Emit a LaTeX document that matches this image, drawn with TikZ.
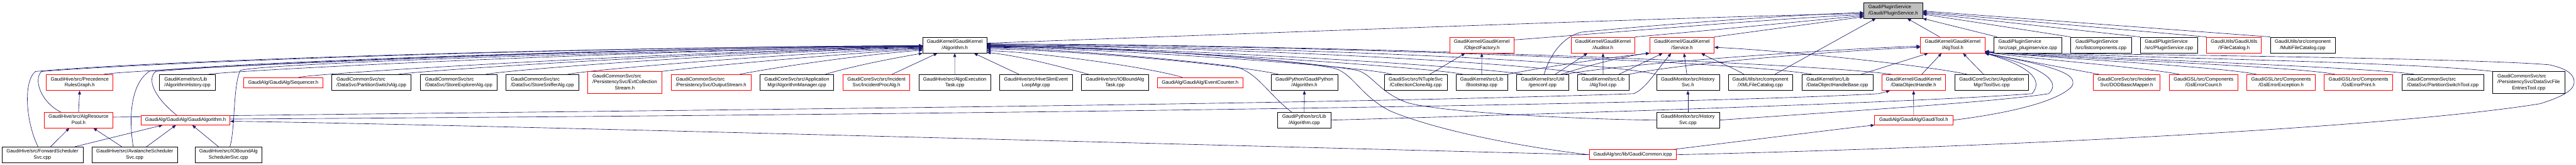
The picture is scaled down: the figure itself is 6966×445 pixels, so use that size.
\documentclass[tikz,border=0pt]{standalone}
\usepackage{fontspec}
\setmainfont{Liberation Sans}
\usetikzlibrary{arrows.meta}
\definecolor{navy}{RGB}{25,25,112}
\definecolor{dred}{RGB}{255,0,0}
\definecolor{dgrey}{RGB}{191,191,191}
\pgfdeclarelayer{background}
\pgfsetlayers{background,main}
\newcommand{\twol}[2]{\begin{tabular}{@{}l@{}}#1\\\multicolumn{1}{@{}c@{}}{#2}\end{tabular}}
\newcommand{\thrl}[3]{\begin{tabular}{@{}l@{}}#1\\#2\\\multicolumn{1}{@{}c@{}}{#3}\end{tabular}}
\begin{document}
\begin{tikzpicture}[x=1pt,y=-1pt,
  bx/.style={draw=black, fill=white, text=black, line width=1.1pt, inner sep=0pt, font=\fontsize{13.2}{16.3}\selectfont, minimum height=43pt},
  rbx/.style={bx, draw=dred},
  one/.style={minimum height=27pt},
  ed/.style={draw=navy, line width=1.1pt, -{Triangle[length=10pt,width=8pt]}}]
\useasboundingbox (0,0) rectangle (6966,445);
% row 1
\node[bx, minimum width=159pt, minimum height=42pt, fill=dgrey] (ps) at (5119.5,28.3) {\twol{GaudiPluginService}{/Gaudi/PluginService.h}};
% row 2
\node[bx, minimum width=173pt] (alg) at (2581.8,121.7) {\twol{GaudiKernel/GaudiKernel}{/Algorithm.h}};
\node[rbx, minimum width=173pt] (objf) at (4007,121.7) {\twol{GaudiKernel/GaudiKernel}{/ObjectFactory.h}};
\node[rbx, minimum width=173pt] (aud) at (4334.8,121.7) {\twol{GaudiKernel/GaudiKernel}{/Auditor.h}};
\node[rbx, minimum width=174pt] (svc) at (4548.2,121.7) {\twol{GaudiKernel/GaudiKernel}{/Service.h}};
\node[rbx, minimum width=174pt] (algtoolh) at (5280.3,121.7) {\twol{GaudiKernel/GaudiKernel}{/AlgTool.h}};
\node[bx, minimum width=184pt] (capi) at (5483.4,121.7) {\twol{GaudiPluginService}{/src/capi\_pluginservice.cpp}};
\node[bx, minimum width=164pt] (listc) at (5681.3,121.7) {\twol{GaudiPluginService}{/src/listcomponents.cpp}};
\node[bx, minimum width=156pt] (pscpp) at (5865.3,121.7) {\twol{GaudiPluginService}{/src/PluginService.cpp}};
\node[rbx, minimum width=148pt] (ifc) at (6041.2,121.7) {\twol{GaudiUtils/GaudiUtils}{/IFileCatalog.h}};
\node[bx, minimum width=175pt] (mfc) at (6227,121.7) {\twol{GaudiUtils/src/component}{/MultiFileCatalog.cpp}};
% row 3
\node[rbx, minimum width=180pt] (prg) at (215.5,222.8) {\twol{GaudiHive/src/Precedence}{RulesGraph.h}};
\node[bx, minimum width=151pt] (ahist) at (506.8,222.8) {\twol{GaudiKernel/src/Lib}{/AlgorithmHistory.cpp}};
\node[rbx, one, minimum width=215pt] (seq) at (766,222.8) {GaudiAlg/GaudiAlg/Sequencer.h};
\node[bx, minimum width=214pt] (psalg) at (1004.3,222.8) {\twol{GaudiCommonSvc/src}{/DataSvc/PartitionSwitchAlg.cpp}};
\node[bx, minimum width=208pt] (sexp) at (1240.4,222.8) {\twol{GaudiCommonSvc/src}{/DataSvc/StoreExplorerAlg.cpp}};
\node[bx, minimum width=197pt] (ssnif) at (1466.8,222.8) {\twol{GaudiCommonSvc/src}{/DataSvc/StoreSnifferAlg.cpp}};
\node[rbx, minimum width=200pt, minimum height=59pt] (evtcs) at (1689.5,222.8) {\thrl{GaudiCommonSvc/src}{/PersistencySvc/EvtCollection}{Stream.h}};
\node[rbx, minimum width=217pt] (ostr) at (1922.9,222.8) {\twol{GaudiCommonSvc/src}{/PersistencySvc/OutputStream.h}};
\node[bx, minimum width=199pt] (algmgr) at (2154.8,222.8) {\twol{GaudiCoreSvc/src/Application}{Mgr/AlgorithmManager.cpp}};
\node[rbx, minimum width=181pt] (incproc) at (2370,222.8) {\twol{GaudiCoreSvc/src/Incident}{Svc/IncidentProcAlg.h}};
\node[bx, minimum width=195pt] (aet) at (2581.9,222.8) {\twol{GaudiHive/src/AlgoExecution}{Task.cpp}};
\node[bx, minimum width=196pt] (hslim) at (2801.5,222.8) {\twol{GaudiHive/src/HiveSlimEvent}{LoopMgr.cpp}};
\node[bx, minimum width=181pt] (ioalgtask) at (3015,222.8) {\twol{GaudiHive/src/IOBoundAlg}{Task.cpp}};
\node[rbx, one, minimum width=232pt] (evc) at (3245.3,222.8) {GaudiAlg/GaudiAlg/EventCounter.h};
\node[bx, minimum width=180pt] (gpyalgh) at (3527.3,222.8) {\twol{GaudiPython/GaudiPython}{/Algorithm.h}};
\node[bx, minimum width=170pt] (cclone) at (3828.2,222.8) {\twol{GaudiSvc/src/NTupleSvc}{/CollectionCloneAlg.cpp}};
\node[bx, minimum width=139pt] (boot) at (4006.8,222.8) {\twol{GaudiKernel/src/Lib}{/Bootstrap.cpp}};
\node[bx, minimum width=140pt] (genconf) at (4171.4,222.8) {\twol{GaudiKernel/src/Util}{/genconf.cpp}};
\node[bx, minimum width=139pt] (algtoolcpp) at (4335,222.8) {\twol{GaudiKernel/src/Lib}{/AlgTool.cpp}};
\node[bx, minimum width=170pt] (hsvch) at (4564.4,222.8) {\twol{GaudiMonitor/src/History}{Svc.h}};
\node[bx, minimum width=174pt] (xmlfc) at (4760.4,222.8) {\twol{GaudiUtils/src/component}{/XMLFileCatalog.cpp}};
\node[bx, minimum width=192pt] (dohbase) at (4968.4,222.8) {\twol{GaudiKernel/src/Lib}{/DataObjectHandleBase.cpp}};
\node[rbx, minimum width=173pt] (doh) at (5174.7,222.8) {\twol{GaudiKernel/GaudiKernel}{/DataObjectHandle.h}};
\node[bx, minimum width=199pt] (toolsvc) at (5385.9,222.8) {\twol{GaudiCoreSvc/src/Application}{Mgr/ToolSvc.cpp}};
\node[rbx, minimum width=181pt] (dodmap) at (5750.9,222.8) {\twol{GaudiCoreSvc/src/Incident}{Svc/DODBasicMapper.h}};
\node[rbx, minimum width=185pt] (gslcount) at (5958.8,222.8) {\twol{GaudiGSL/src/Components}{/GslErrorCount.h}};
\node[rbx, minimum width=186pt] (gslexc) at (6168.5,222.8) {\twol{GaudiGSL/src/Components}{/GslErrorException.h}};
\node[rbx, minimum width=185pt] (gslprint) at (6377.8,222.8) {\twol{GaudiGSL/src/Components}{/GslErrorPrint.h}};
\node[bx, minimum width=221pt] (pstool) at (6605.9,222.8) {\twol{GaudiCommonSvc/src}{/DataSvc/PartitionSwitchTool.cpp}};
\node[bx, minimum width=195pt, minimum height=59pt] (dsfet) at (6838,222.8) {\thrl{GaudiCommonSvc/src}{/PersistencySvc/DataSvcFile}{EntriesTool.cpp}};
% row 4
\node[rbx, minimum width=186pt, minimum height=42pt] (arp) at (212.4,324.3) {\twol{GaudiHive/src/AlgResource}{Pool.h}};
\node[rbx, minimum width=240.6pt, minimum height=25.7pt] (gaudialg) at (501.8,324.5) {GaudiAlg/GaudiAlg/GaudiAlgorithm.h};
\node[bx, minimum width=143.4pt, minimum height=42pt] (gpyalgcpp) at (3526.9,324.3) {\twol{GaudiPython/src/Lib}{/Algorithm.cpp}};
\node[bx, minimum width=170pt, minimum height=42pt] (hsvccpp) at (4564.4,324.3) {\twol{GaudiMonitor/src/History}{Svc.cpp}};
\node[rbx, minimum width=211.2pt, minimum height=25.7pt] (gtool) at (5174.9,324.5) {GaudiAlg/GaudiAlg/GaudiTool.h};
% row 5
\node[bx, minimum width=218.8pt, minimum height=42.6pt] (fwd) at (114.8,418) {\twol{GaudiHive/src/ForwardScheduler}{Svc.cpp}};
\node[bx, minimum width=232pt, minimum height=42.6pt] (aval) at (364.3,418) {\twol{GaudiHive/src/AvalancheScheduler}{Svc.cpp}};
\node[bx, minimum width=181pt, minimum height=42.6pt] (iosched) at (617.8,418) {\twol{GaudiHive/src/IOBoundAlg}{SchedulerSvc.cpp}};
\node[rbx, one, minimum width=236pt] (gcommon) at (4415.3,417.8) {GaudiAlg/src/lib/GaudiCommon.icpp};

\begin{pgfonlayer}{background}
% to PluginService.h
\draw[ed] ([yshift=5pt]alg.east) .. controls (3600,82) and (4700,42) .. (ps.186);
\draw[ed] ([yshift=14pt]objf.east) .. controls (4400,85) and (4800,50) .. (ps.188);
\draw[ed] (aud.north east) .. controls (4650,80) and (4900,55) .. (ps.190);
\draw[ed] (svc.north east) -- (ps.192);
\draw[ed] ([xshift=4pt]genconf.north) .. controls (4190,150) and (4225,100) .. (4275,87) .. controls (4500,65) and (4850,40) .. (ps.184);
\draw[ed] ([xshift=39pt]xmlfc.north) -- ([xshift=-47pt]ps.south);
\draw[ed] ([xshift=-35pt]algtoolh.north) -- ([xshift=38pt]ps.south);
\draw[ed] ([xshift=-83pt]capi.north) -- (ps.south east);
\draw[ed] (listc.north west) -- (ps.-7);
\draw[ed] (pscpp.north west) -- (ps.-5);
\draw[ed] (ifc.north west) -- (ps.-3);
\draw[ed] (mfc.north west) -- (ps.-1);
% to Algorithm.h from the left
\draw[ed] ([xshift=-12pt]fwd.north) .. controls (70,330) and (62,220) .. (96,193) .. controls (400,165) and (1500,128) .. (alg.181);
\draw[ed] ([xshift=-48pt]arp.north) .. controls (110,275) and (90,215) .. (112,193) .. controls (420,168) and (1500,128) .. (alg.181);
\draw[ed] ([xshift=65pt]prg.north) .. controls (320,190) and (1500,133) .. (alg.181);
\draw[ed] ([xshift=-4pt]aval.north) .. controls (345,300) and (360,220) .. (405,192) .. controls (700,165) and (1700,130) .. (alg.182);
\draw[ed] ([xshift=-24pt]gaudialg.north) .. controls (420,265) and (395,215) .. (421,193) .. controls (700,168) and (1700,130) .. (alg.182);
\draw[ed] ([xshift=57pt]ahist.north) .. controls (600,192) and (1600,140) .. (alg.182);
\draw[ed] ([xshift=4pt]iosched.north) .. controls (636,350) and (630,230) .. (650,190) .. controls (720,170) and (1800,135) .. (alg.183);
\draw[ed] ([xshift=42pt]seq.north) .. controls (850,198) and (1800,140) .. (alg.183);
\draw[ed] ([xshift=73pt]psalg.north) .. controls (1120,192) and (1900,140) .. (alg.184);
\draw[ed] ([xshift=73pt]sexp.north) .. controls (1360,190) and (2000,140) .. (alg.185);
\draw[ed] ([xshift=68pt]ssnif.north) .. controls (1580,190) and (2100,145) .. (alg.186);
\draw[ed] (evtcs.north east) .. controls (1850,185) and (2200,150) .. (alg.187);
\draw[ed] ([xshift=77pt]ostr.north) .. controls (2050,190) and (2300,150) .. (alg.189);
\draw[ed] ([xshift=77pt]algmgr.north) .. controls (2300,180) and (2400,160) .. (alg.south west);
\draw[ed] ([xshift=42pt]incproc.north) -- ([xshift=-47pt]alg.south);
\draw[ed] (aet.north) -- (alg.south);
\draw[ed] ([xshift=-46pt]hslim.north) -- ([xshift=52pt]alg.south);
% to Algorithm.h from the right
\draw[ed] ([xshift=-71pt]ioalgtask.north) .. controls (2850,175) and (2750,150) .. (alg.-13);
\draw[ed] ([xshift=-48pt]evc.north) .. controls (3100,180) and (2800,140) .. (alg.-10);
\draw[ed] ([xshift=-70pt]gpyalgh.north) .. controls (3350,175) and (2900,135) .. (alg.-7);
\draw[ed] ([xshift=-34pt]gpyalgcpp.north) .. controls (3430,255) and (3400,195) .. (3340,180) .. controls (3100,150) and (2800,130) .. (alg.-5);
\draw[ed] ([xshift=-65pt]cclone.north) .. controls (3700,180) and (3000,130) .. (alg.-4);
\draw[ed] ([xshift=-51pt]boot.north) .. controls (3900,185) and (3100,128) .. (alg.-3);
\draw[ed] ([xshift=-54pt]genconf.north) .. controls (4050,185) and (3200,128) .. (alg.-2);
\draw[ed] ([xshift=-45pt]algtoolcpp.north) .. controls (4150,170) and (3300,125) .. (alg.-1);
\draw[ed] (hsvch.north west) .. controls (4300,160) and (3400,125) .. (alg.0);
\draw[ed] (hsvccpp.west) .. controls (4300,323) and (3900,305) .. (3805,277) .. controls (3730,250) and (3710,200) .. (3670,190) .. controls (3500,160) and (3000,125) .. (alg.-2);
\draw[ed] (gcommon.west) .. controls (4100,395) and (3880,350) .. (3760,300) .. controls (3680,260) and (3660,200) .. (3610,185) .. controls (3500,160) and (3000,125) .. (alg.-2);
\draw[ed] ([xshift=-68pt]dohbase.north) .. controls (4700,165) and (3500,120) .. (alg.1);
\draw[ed] ([xshift=-59pt]doh.north) .. controls (4900,170) and (3600,120) .. (alg.2);
% ObjectFactory, Auditor, Service
\draw[ed] ([xshift=38pt]cclone.north) -- ([xshift=-45pt]objf.south);
\draw[ed] (boot.north) -- (objf.south);
\draw[ed] ([xshift=34pt]genconf.north) -- ([xshift=-42pt]aud.south);
\draw[ed] (algtoolcpp.north) -- (aud.south);
\draw[ed] ([xshift=50pt]genconf.north) .. controls (4300,175) and (4400,150) .. (svc.south west);
\draw[ed] (boot.north east) .. controls (4150,185) and (4350,155) .. (svc.south west);
\draw[ed] ([xshift=43pt]algtoolcpp.north) -- ([xshift=-52pt]svc.south);
\draw[ed] ([xshift=-3pt]hsvch.north) -- ([xshift=6pt]svc.south);
\draw[ed] ([xshift=-44pt]xmlfc.north) .. controls (4680,180) and (4640,165) .. ([xshift=52pt]svc.south);
\draw[ed] ([xshift=-66pt]toolsvc.north) .. controls (5200,175) and (4800,135) .. (svc.-4);
\draw[ed] ([yshift=8pt]arp.east) .. controls (1500,300) and (3500,285) .. (4418,253) .. controls (4450,240) and (4480,190) .. ([xshift=-29pt]svc.south);
% lower left
\draw[ed] (arp.north) -- (prg.south);
\draw[ed] ([xshift=22pt]fwd.north) -- ([xshift=-25pt]arp.south);
\draw[ed] ([xshift=-35pt]aval.north) -- ([xshift=40pt]arp.south);
\draw[ed] ([xshift=88pt]fwd.north) -- ([xshift=-62pt]gaudialg.south);
\draw[ed] ([xshift=32pt]aval.north) -- ([xshift=-26pt]gaudialg.south);
\draw[ed] ([xshift=-27pt]iosched.north) -- ([xshift=18pt]gaudialg.south);
\draw[ed] (gcommon.west) .. controls (3000,385) and (1200,335) .. ([yshift=-3pt]gaudialg.east);
% DataObjectHandle, GaudiPython, History, GaudiTool
\draw[ed] ([yshift=3pt]gaudialg.east) .. controls (2500,310) and (4500,285) .. (5080,253) -- ([xshift=-64pt]doh.south);
\draw[ed] (gtool.north) -- (doh.south);
\draw[ed] (gpyalgcpp.north) -- (gpyalgh.south);
\draw[ed] (hsvccpp.north) -- (hsvch.south);
\draw[ed] ([xshift=108pt]gcommon.north) .. controls (4800,370) and (5000,345) .. (gtool.south west);
% AlgTool.h
\draw[ed] (algtoolcpp.north east) .. controls (4550,170) and (5000,135) .. (algtoolh.184);
\draw[ed] ([xshift=60pt]genconf.north) .. controls (4400,170) and (5000,130) .. (algtoolh.182);
\draw[ed] ([xshift=22pt]doh.north) -- ([xshift=-30pt]algtoolh.south);
\draw[ed] ([xshift=64pt]dohbase.north) -- ([xshift=-66pt]algtoolh.south);
\draw[ed] ([xshift=-22pt]toolsvc.north) -- ([xshift=28pt]algtoolh.south);
\draw[ed] (gpyalgcpp.east) .. controls (4300,305) and (5200,275) .. (5495,253) .. controls (5520,225) and (5510,185) .. (algtoolh.south east);
\draw[ed] (hsvccpp.east) .. controls (5000,300) and (5400,275) .. (5540,253) .. controls (5565,230) and (5560,190) .. (algtoolh.south east);
\draw[ed] (gtool.east) .. controls (5400,310) and (5560,280) .. (5603,233) .. controls (5620,200) and (5560,180) .. (algtoolh.south east);
\draw[ed] ([xshift=-74pt]dodmap.north) -- (algtoolh.south east);
\draw[ed] ([xshift=-65pt]gslcount.north) .. controls (5800,182) and (5500,160) .. (algtoolh.-12);
\draw[ed] ([xshift=-66pt]gslexc.north) .. controls (6000,180) and (5600,160) .. (algtoolh.-12);
\draw[ed] ([xshift=-63pt]gslprint.north) .. controls (6200,178) and (5600,158) .. (algtoolh.-12);
\draw[ed] ([xshift=-77pt]pstool.north) .. controls (6400,180) and (5600,155) .. (algtoolh.-11);
\draw[ed] (dsfet.north west) .. controls (6500,165) and (5600,152) .. (algtoolh.-11);
\draw[ed] (gcommon.east) .. controls (5500,395) and (6500,340) .. (6869,280) .. controls (6940,258) and (6962,240) .. (6961,220) .. controls (6960,200) and (6940,185) .. (6894,175) .. controls (6700,158) and (5800,147) .. (algtoolh.-13);
\end{pgfonlayer}
\end{tikzpicture}
\end{document}
